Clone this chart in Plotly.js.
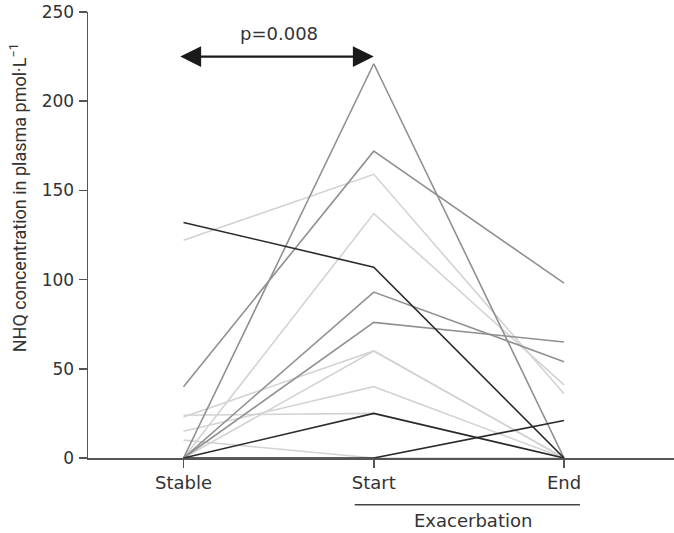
<!DOCTYPE html>
<html>
<head>
<meta charset="utf-8">
<script src="https://cdn.plot.ly/plotly-3.0.1.min.js"></script>
<style>
  html, body { margin: 0; padding: 0; background: #fff; }
  #chart { width: 674px; height: 533px; }
</style>
</head>
<body>
<div id="chart"></div>
<script>
// time points
const phases = ['Stable', 'Start', 'End'];

// NHQ per patient (pmol/L)
const stableVals = [132, 0, 0, 0, 40, 0, 0, 122, 0, 23, 0, 15, 24, 10];
const startVals  = [107, 25, 0, 221, 172, 93, 76, 159, 137, 60, 60, 40, 25, 0];
const endVals    = [0, 0, 21, 0, 98, 54, 65, 36, 41, 0, 0, 0, 0, 0];

// shade group per patient line
const lineShade = ['dark', 'dark', 'dark', 'mid', 'mid', 'mid', 'mid',
                   'light', 'light', 'light', 'light', 'light', 'light', 'light'];

const pValue = 'p=0.008';

const shadeColor = { dark: '#2b2b2b', mid: '#909090', light: '#d3d3d3' };
const drawOrder = ['light', 'mid', 'dark'];

const traces = [];
drawOrder.forEach(shade => {
  lineShade.forEach((s, i) => {
    if (s !== shade) return;
    traces.push({
      type: 'scatter',
      mode: 'lines',
      x: phases,
      y: [stableVals[i], startVals[i], endVals[i]],
      line: { color: shadeColor[s], width: 1.6 },
      cliponaxis: false,
      hoverinfo: 'skip',
      showlegend: false
    });
  });
});

const fam = '"DejaVu Sans", sans-serif';
const font = { family: fam, size: 18, color: '#333' };
const tickFontY = { family: fam, size: 17, color: '#333' };

const layout = {
  width: 674,
  height: 533,
  margin: { l: 88, r: 0, t: 12, b: 75 },
  paper_bgcolor: '#fff',
  plot_bgcolor: '#fff',
  font: font,
  showlegend: false,
  xaxis: {
    type: 'category',
    range: [-0.502, 2.578],
    showgrid: false,
    zeroline: false,
    showline: true,
    linecolor: '#555',
    linewidth: 1.5,
    ticks: 'outside',
    ticklen: 8,
    tickwidth: 1.5,
    tickcolor: '#555',
    tickfont: font,
    fixedrange: true
  },
  yaxis: {
    range: [0, 250],
    tickvals: [0, 50, 100, 150, 200, 250],
    showgrid: false,
    zeroline: false,
    showline: true,
    linecolor: '#555',
    linewidth: 1.5,
    ticks: 'outside',
    ticklen: 8,
    tickwidth: 1.5,
    tickcolor: '#555',
    tickfont: tickFontY,
    ticklabelstandoff: 1,
    fixedrange: true
  },
  shapes: [{
    type: 'line',
    xref: 'x', yref: 'paper',
    x0: 0.9, x1: 2.084,
    y0: -0.105, y1: -0.105,
    line: { color: '#444', width: 1.5 }
  }],
  annotations: [
    {
      x: 1, y: 225, xref: 'x', yref: 'y',
      ax: -0.025, ay: 225, axref: 'x', ayref: 'y',
      text: '',
      showarrow: true,
      arrowside: 'end+start',
      arrowhead: 2,
      arrowsize: 1.9,
      arrowwidth: 2.2,
      arrowcolor: '#1a1a1a',
      standoff: 0,
      startstandoff: 0
    },
    {
      x: 0.5, y: 238, xref: 'x', yref: 'y',
      text: pValue,
      showarrow: false,
      font: font,
      yanchor: 'middle'
    },
    {
      x: 1.52, y: -0.141, xref: 'x', yref: 'paper',
      text: 'Exacerbation',
      showarrow: false,
      font: font,
      yanchor: 'middle'
    },
    {
      x: -0.119, y: 0.583, xref: 'paper', yref: 'paper',
      text: 'NHQ concentration in plasma pmol·L<sup>−1</sup>',
      textangle: -90,
      showarrow: false,
      font: { family: 'Roboto, sans-serif', size: 18, color: '#333' },
      xanchor: 'center',
      yanchor: 'middle'
    }
  ]
};

Plotly.newPlot('chart', traces, layout, { displayModeBar: false, staticPlot: true });
</script>
</body>
</html>
